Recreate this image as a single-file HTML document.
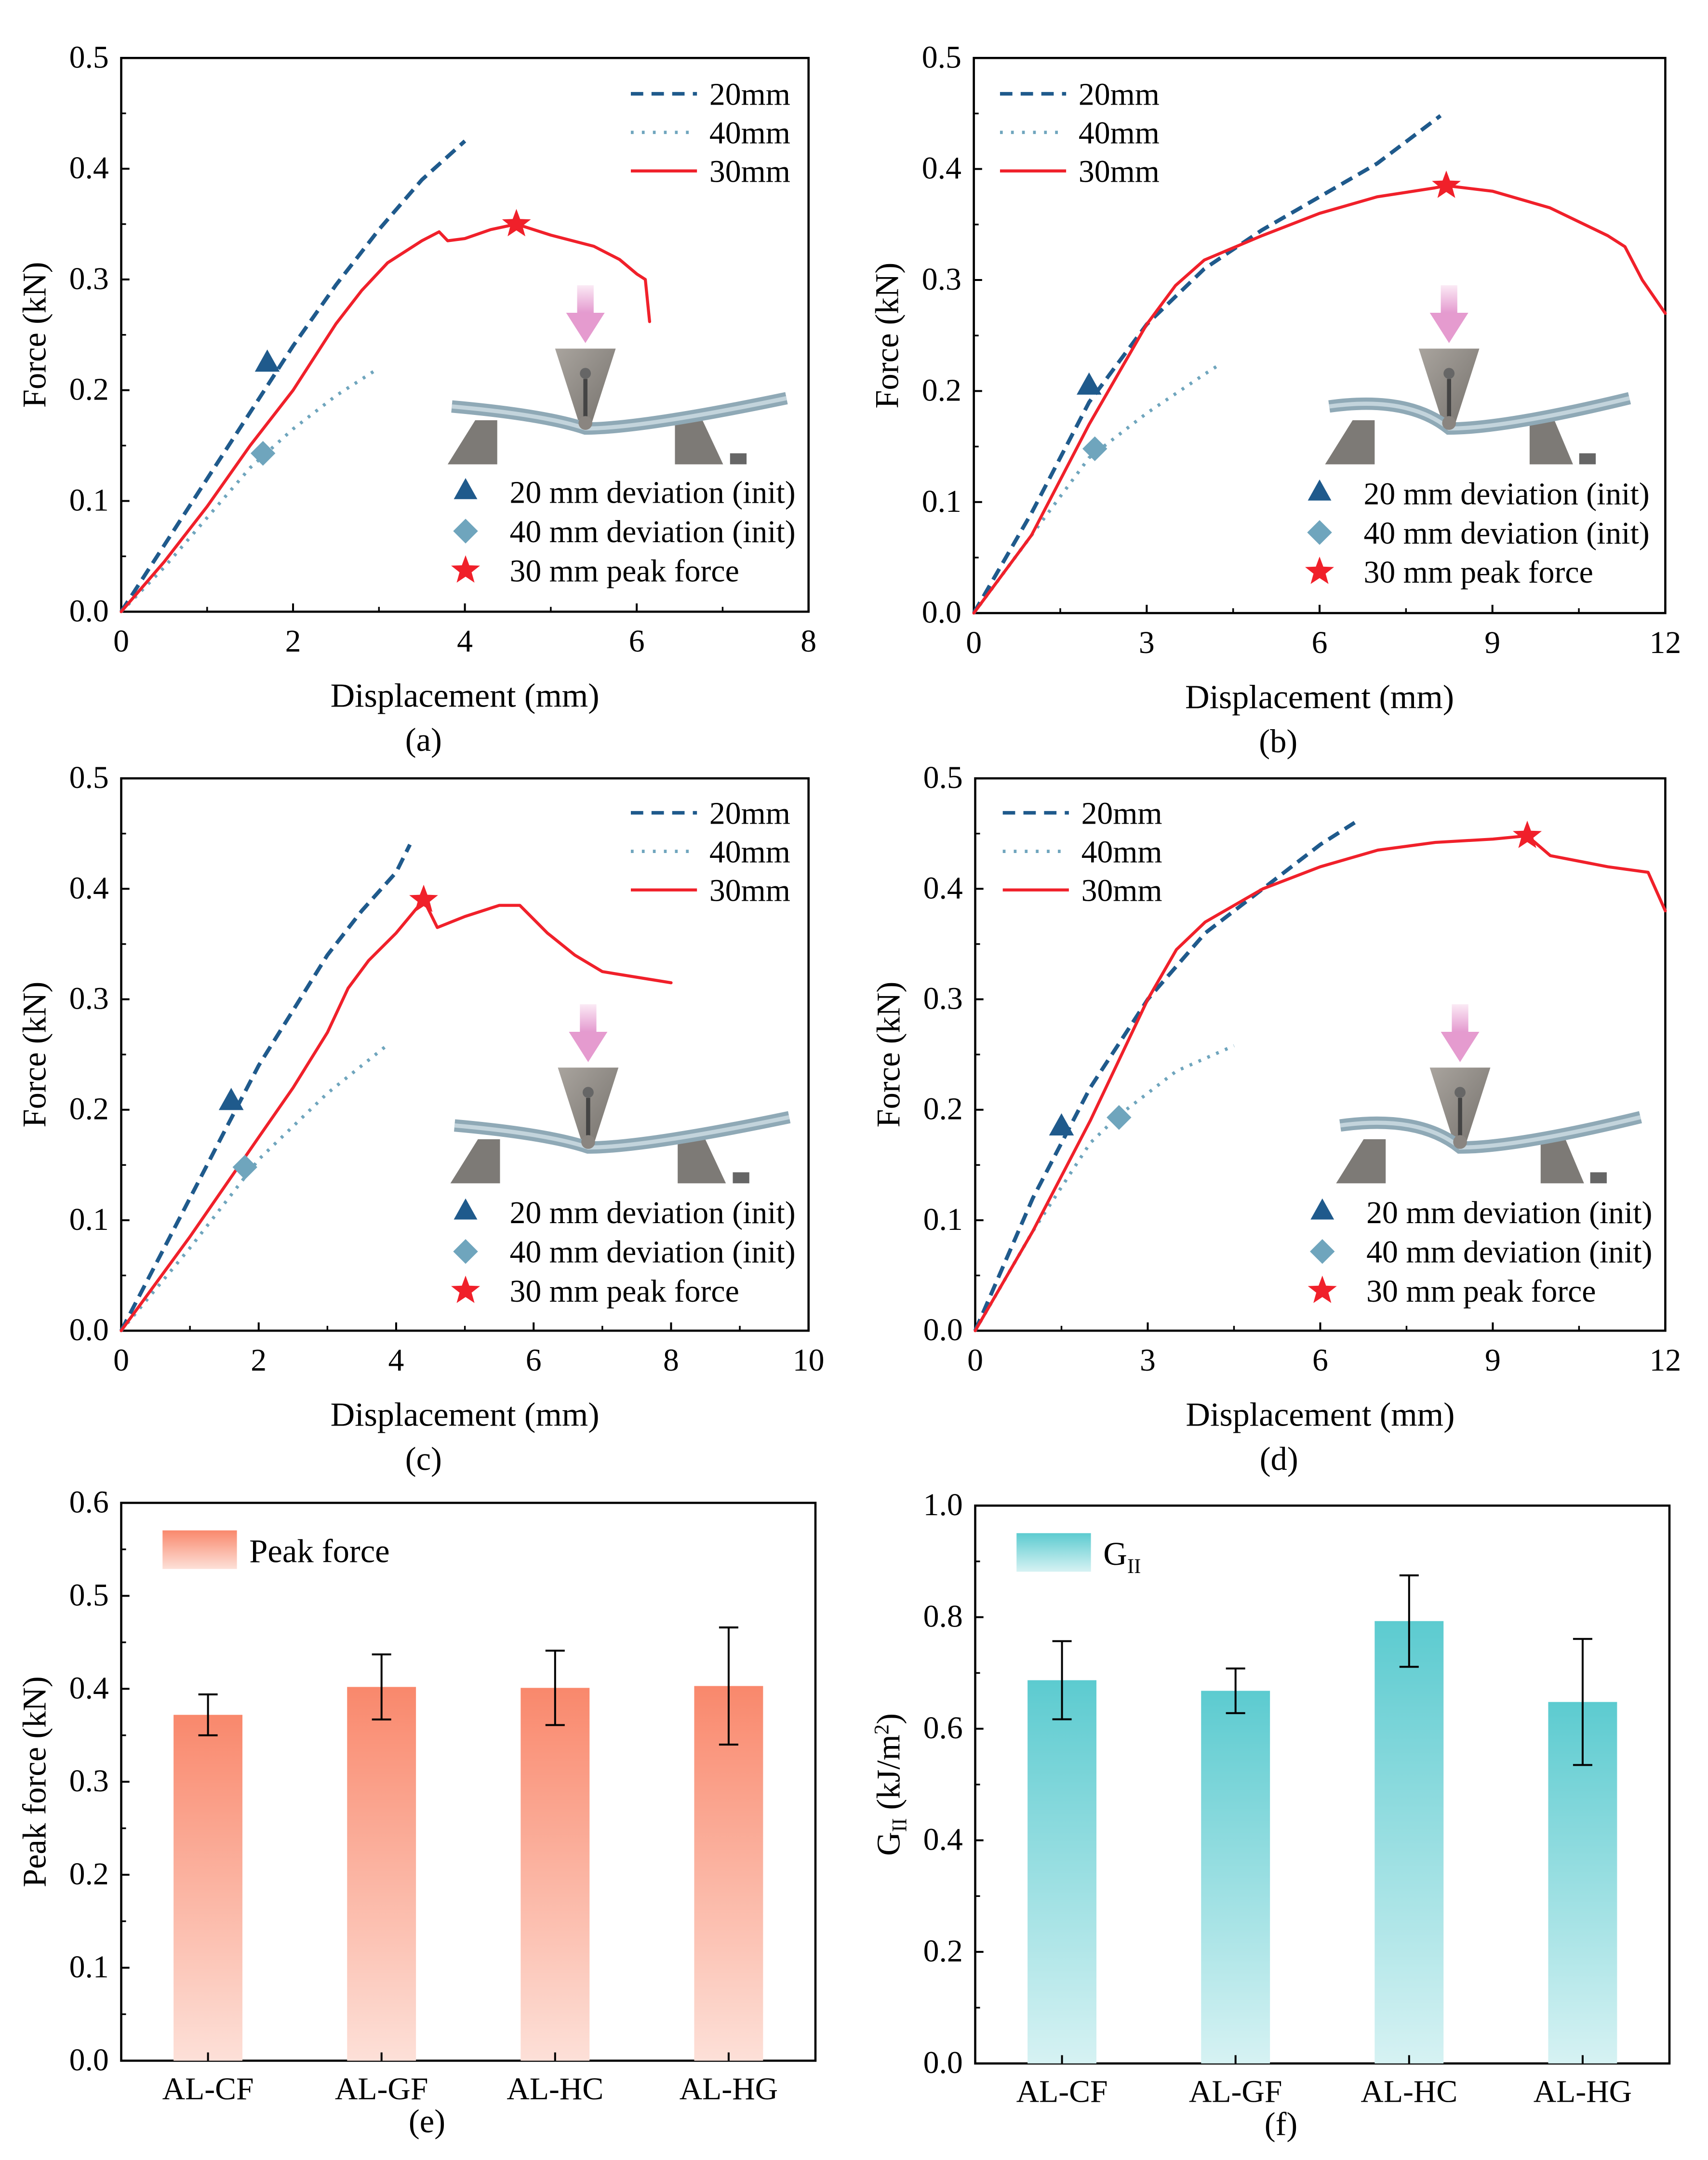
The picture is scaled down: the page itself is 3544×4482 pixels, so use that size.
<!DOCTYPE html>
<html><head><meta charset="utf-8"><style>
html,body{margin:0;padding:0;background:#fff}
svg{display:block}
text{font-family:"Liberation Serif",serif;fill:#000}
</style></head><body>
<svg id="fig" xmlns="http://www.w3.org/2000/svg" width="3544" height="4482" viewBox="0 0 1240 1568">
<defs>
<linearGradient id="gRed" x1="0" y1="0" x2="0" y2="1"><stop offset="0" stop-color="#f9886c"/><stop offset="1" stop-color="#fde0d8"/></linearGradient>
<linearGradient id="gTeal" x1="0" y1="0" x2="0" y2="1"><stop offset="0" stop-color="#5ccbd0"/><stop offset="1" stop-color="#d6f2f3"/></linearGradient>
<linearGradient id="gPink" x1="0" y1="0" x2="0" y2="1"><stop offset="0" stop-color="#fbeaf5"/><stop offset="1" stop-color="#e293cc"/></linearGradient>
<linearGradient id="gMetal" x1="0" y1="0" x2="1" y2="1"><stop offset="0" stop-color="#a9a49e"/><stop offset="1" stop-color="#75716c"/></linearGradient>
</defs>
</svg>
<script>
// ---------- data ----------
const a20 = [[0,0],[0.5,0.06],[1,0.12],[1.5,0.18],[2,0.24],[2.5,0.295],[3,0.345],[3.5,0.39],[4,0.425]];
const a40 = [[0,0],[0.5,0.04],[1,0.085],[1.5,0.13],[2,0.165],[2.5,0.195],[3,0.22]];
const a30 = [[0,0],[0.5,0.045],[1,0.095],[1.5,0.15],[2,0.2],[2.5,0.26],[2.8,0.29],[3.1,0.315],[3.5,0.335],[3.7,0.343],[3.8,0.335],[4,0.337],[4.3,0.345],[4.6,0.35],[5,0.34],[5.5,0.33],[5.8,0.318],[6,0.305],[6.1,0.3],[6.15,0.262]];
const aMarks = [[1.7,0.225],[1.65,0.143],[4.6,0.35]];
const b20 = [[0,0],[1,0.09],[2,0.19],[3,0.26],[4,0.31],[5,0.345],[6,0.375],[7,0.405],[8.1,0.448]];
const b40 = [[0,0],[1,0.07],[2,0.14],[3,0.18],[4,0.215],[4.3,0.225]];
const b30 = [[0,0],[1,0.07],[2,0.17],[3,0.26],[3.5,0.295],[4,0.318],[5,0.34],[6,0.36],[7,0.375],[8,0.383],[8.2,0.385],[9,0.38],[10,0.365],[11,0.34],[11.3,0.33],[11.6,0.3],[12,0.27]];
const bMarks = [[2,0.205],[2.1,0.148],[8.2,0.385]];
const c20 = [[0,0],[0.5,0.06],[1,0.12],[1.5,0.18],[2,0.24],[2.5,0.29],[3,0.34],[3.5,0.38],[4,0.415],[4.2,0.44]];
const c40 = [[0,0],[1,0.075],[2,0.155],[3,0.215],[3.9,0.26]];
const c30 = [[0,0],[1,0.085],[2,0.175],[2.5,0.22],[3,0.27],[3.3,0.31],[3.6,0.335],[4,0.36],[4.4,0.39],[4.6,0.365],[5,0.375],[5.5,0.385],[5.8,0.385],[6.2,0.36],[6.6,0.34],[7,0.325],[7.5,0.32],[8,0.315]];
const cMarks = [[1.6,0.208],[1.8,0.148],[4.4,0.39]];
const d20 = [[0,0],[1,0.12],[2,0.22],[3,0.3],[4,0.36],[5,0.4],[6,0.44],[6.6,0.46]];
const d40 = [[0,0],[1,0.09],[2,0.17],[2.5,0.195],[3.5,0.235],[4.5,0.258]];
const d30 = [[0,0],[1,0.09],[2,0.19],[3,0.3],[3.5,0.345],[4,0.37],[5,0.4],[6,0.42],[7,0.435],[8,0.442],[9,0.445],[9.6,0.448],[10,0.43],[11,0.42],[11.7,0.415],[12,0.38]];
const dMarks = [[1.5,0.185],[2.5,0.193],[9.6,0.448]];
const categories = ["AL-CF","AL-GF","AL-HC","AL-HG"];
const peakForce = [0.372,0.402,0.401,0.403];
const peakErr = [0.022,0.035,0.04,0.063];
const gII = [0.687,0.668,0.793,0.648];
const gIIErr = [0.07,0.04,0.082,0.113];
const xTicksA = [0,2,4,6,8];
const xTicks12 = [0,3,6,9,12];
const xTicksC = [0,2,4,6,8,10];
const yTicksF = [0,0.1,0.2,0.3,0.4,0.5];
const yTicksE = [0,0.1,0.2,0.3,0.4,0.5,0.6];
const yTicksG = [0,0.2,0.4,0.6,0.8,1.0];

// ---------- helpers ----------
const NS="http://www.w3.org/2000/svg";
const svg=document.getElementById('fig');
function mk(tag,attrs,parent){const e=document.createElementNS(NS,tag);for(const k in attrs)e.setAttribute(k,attrs[k]);(parent||svg).appendChild(e);return e;}
function txt(s,x,y,size,anchor,parent){const t=mk('text',{x:x,y:y,'font-size':size,'text-anchor':anchor||'middle'},parent);t.textContent=s;return t;}

function axes(g,box,xmax,xt,ymax,yt,ylabel,xlabel,tag,fmtY){
  const L=box[0],T=box[1],R=box[2],B=box[3];
  const sx=v=>L+(v/xmax)*(R-L), sy=v=>B-(v/ymax)*(B-T);
  const frame=mk('rect',{x:L,y:T,width:R-L,height:B-T,fill:'none',stroke:'#000','stroke-width':1.6},g);
  
  
  if(xt){
    for(let i=0;i<xt.length;i++){
      const x=sx(xt[i]);
      mk('line',{x1:x,y1:B,x2:x,y2:B-6,stroke:'#000','stroke-width':1.4},g);
      const t=txt(String(xt[i]),x,B+29,23,'middle',g);
      
      
      if(i<xt.length-1){const xm=sx((xt[i]+xt[i+1])/2);mk('line',{x1:xm,y1:B,x2:xm,y2:B-3.5,stroke:'#000','stroke-width':1.2},g);}
    }
  }
  for(let i=0;i<yt.length;i++){
    const y=sy(yt[i]);
    mk('line',{x1:L,y1:y,x2:L+6,y2:y,stroke:'#000','stroke-width':1.4},g);
    const t=txt(fmtY(yt[i]),L-9,y+7,23,'end',g);
    
    
    if(i<yt.length-1){const ym=sy((yt[i]+yt[i+1])/2);mk('line',{x1:L,y1:ym,x2:L+3.5,y2:ym,stroke:'#000','stroke-width':1.2},g);}
  }
  if(ylabel){
    const cy=(T+B)/2;
    const t=mk('text',{x:0,y:0,'font-size':24,'text-anchor':'middle',transform:`translate(${L-55},${cy}) rotate(-90)`},g);
    t.textContent=ylabel;
    
    
  }
  if(xlabel){
    const t=txt(xlabel,(L+R)/2,B+69,24.5,'middle',g);
    
    
  }
  const p=txt(tag,(L+R)/2-30,B+(xlabel?101:52),24,'middle',g);
  
  
  return {sx,sy};
}

function line(g,data,sx,sy,color,dash,w,name){
  const d=data.map((p,i)=>(i?'L':'M')+sx(p[0]).toFixed(1)+','+sy(p[1]).toFixed(1)).join(' ');
  const e=mk('path',{d:d,fill:'none',stroke:color,'stroke-width':w,'stroke-dasharray':dash,'stroke-linejoin':'round','stroke-linecap':dash?'butt':'round'},g);
  
  
}
function tri(g,x,y,s){const e=mk('polygon',{points:`${x},${y-s} ${x-s*0.95},${y+s*0.7} ${x+s*0.95},${y+s*0.7}`,fill:'#1f5a8c'},g);return e;}
function dia(g,x,y,s){return mk('polygon',{points:`${x},${y-s} ${x+s},${y} ${x},${y+s} ${x-s},${y}`,fill:'#6fa5bd'},g);}
function star(g,x,y,r){let pts=[];for(let i=0;i<10;i++){const rr=i%2?r*0.42:r;const a=-Math.PI/2+i*Math.PI/5;pts.push((x+rr*Math.cos(a)).toFixed(1)+','+(y+rr*Math.sin(a)).toFixed(1));}return mk('polygon',{points:pts.join(' '),fill:'#f0202a'},g);}

function inset(g,x0,y0,w,dip){
  const gi=mk('g',{},g);
  
  
  const cx=x0+w*0.4;
  mk('rect',{x:cx-6,y:y0,width:12,height:22,fill:'url(#gPink)'},gi);
  mk('polygon',{points:`${cx-14},${y0+20} ${cx+14},${y0+20} ${cx},${y0+42}`,fill:'#e59bcf'},gi);
  mk('polygon',{points:`${cx-22},${y0+46} ${cx+22},${y0+46} ${cx+4},${y0+102} ${cx-4},${y0+102}`,fill:'url(#gMetal)'},gi);
  mk('circle',{cx:cx,cy:y0+64,r:4,fill:'#666'},gi);
  mk('line',{x1:cx,y1:y0+68,x2:cx,y2:y0+98,stroke:'#444','stroke-width':3},gi);
  mk('polygon',{points:`${x0},${y0+130} ${x0+20},${y0+98} ${x0+36},${y0+98} ${x0+36},${y0+130}`,fill:'#7d7a76'},gi);
  mk('polygon',{points:`${x0+w*0.66},${y0+130} ${x0+w*0.66},${y0+98} ${x0+w*0.74},${y0+98} ${x0+w*0.8},${y0+130}`,fill:'#7d7a76'},gi);
  mk('rect',{x:x0+w*0.82,y:y0+122,width:12,height:8,fill:'#666'},gi);
  mk('path',{d:`M${x0+3},${y0+88} Q${cx-30},${y0+100+dip} ${cx},${y0+104} Q${cx+40},${y0+104} ${x0+w-4},${y0+82}`,fill:'none',stroke:'#8fa9b6','stroke-width':9,'stroke-linecap':'butt'},gi);
  mk('path',{d:`M${x0+3},${y0+88} Q${cx-30},${y0+100+dip} ${cx},${y0+104} Q${cx+40},${y0+104} ${x0+w-4},${y0+82}`,fill:'none',stroke:'#c3d4dc','stroke-width':3},gi);
  mk('circle',{cx:cx,cy:y0+100,r:5,fill:'#8a8580'},gi);
}

function legends(g,lx,ly,mx,my){
  const items=[['20mm','#1f5a8c','9,6',2.6],['40mm','#6fa5bd','2,6',2.4],['30mm','#f0202a','',2.2]];
  items.forEach((it,i)=>{
    const y=ly+i*28;
    const l=mk('line',{x1:lx,y1:y,x2:lx+48,y2:y,stroke:it[1],'stroke-width':it[3],'stroke-dasharray':it[2]},g);
    
    
    const t=txt(it[0],lx+57,y+8,23,'start',g);
    
    
  });
  const labs=['20 mm deviation (init)','40 mm deviation (init)','30 mm peak force'];
  labs.forEach((s,i)=>{
    const y=my+i*28.5;
    if(i==0)tri(g,mx,y-1,9);else if(i==1)dia(g,mx,y,9);else star(g,mx,y,11);
    const t=txt(s,mx+32,y+8,23,'start',g);
    
    
  });
}

function curvePanel(name,box,xmax,xt,d20,d40,d30,marks,tag,legPos,ins){
  const g=mk('g',{});
  
  
  const {sx,sy}=axes(g,box,xmax,xt,0.5,yTicksF,'Force (kN)','Displacement (mm)',tag,v=>v.toFixed(1));
  inset(g,ins[0],ins[1],ins[2],ins[3]);
  line(g,d40,sx,sy,'#6fa5bd','2,5',2.4,'series-40mm');
  line(g,d20,sx,sy,'#1f5a8c','9,5',2.8,'series-20mm');
  line(g,d30,sx,sy,'#f0202a','',2.2,'series-30mm');
  const m1=tri(g,sx(marks[0][0]),sy(marks[0][1]),9.5);
  
  
  const m2=dia(g,sx(marks[1][0]),sy(marks[1][1]),9);
  
  
  const m3=star(g,sx(marks[2][0]),sy(marks[2][1]),11);
  
  
  legends(g,legPos[0],legPos[1],legPos[2],legPos[3]);
}

curvePanel('panel-a',[88,42,587,444],8,xTicksA,a20,a40,a30,aMarks,'(a)',[458,68,338,357],[325,207,250,-6]);
curvePanel('panel-b',[707,42,1209,445],12,xTicks12,b20,b40,b30,bMarks,'(b)',[726,68,958,358],[962,207,225,-20]);
curvePanel('panel-c',[88,565,587,966],10,xTicksC,c20,c40,c30,cMarks,'(c)',[458,590,338,880],[327,729,250,-6]);
curvePanel('panel-d',[708,565,1209,966],12,xTicks12,d20,d40,d30,dMarks,'(d)',[728,590,960,880],[970,729,225,-20]);

function barPanel(name,box,ymax,yt,vals,errs,grad,ylabelNode,legText,tag,fmt){
  const g=mk('g',{});
  
  
  const L=box[0],R=box[2],B=box[3],T=box[1];
  const {sy}=axes(g,box,1,null,ymax,yt,null,null,tag,fmt);
  const step=(R-L)/4;
  categories.forEach((c,i)=>{
    const cx=L+step*(i+0.5);
    const r=mk('rect',{x:cx-25,y:sy(vals[i]),width:50,height:B-sy(vals[i]),fill:grad},g);
    
    
    const e=mk('path',{d:`M${cx},${sy(vals[i]+errs[i])} V${sy(vals[i]-errs[i])} M${cx-7},${sy(vals[i]+errs[i])} H${cx+7} M${cx-7},${sy(vals[i]-errs[i])} H${cx+7}`,stroke:'#000','stroke-width':1.4,fill:'none'},g);
    
    
    mk('line',{x1:cx,y1:B,x2:cx,y2:B-6,stroke:'#000','stroke-width':1.4},g);
    const t=txt(c,cx,B+28,23,'middle',g);
    
    
  });
  const lg=mk('rect',{x:L+30,y:T+20,width:54,height:28,fill:grad},g);
  
  
  const lt=mk('text',{x:L+93,y:T+43,'font-size':24},g);
  lt.innerHTML=legText;
  
  
  const yl=mk('text',{x:0,y:0,'font-size':24,'text-anchor':'middle',transform:`translate(${L-55},${(T+B)/2}) rotate(-90)`},g);
  yl.innerHTML=ylabelNode;
  
  
}
barPanel('panel-e',[88,1091,592,1496],0.6,yTicksE,peakForce,peakErr,'url(#gRed)','Peak force (kN)','Peak force','(e)',v=>v.toFixed(1));
barPanel('panel-f',[708,1093,1212,1498],1.0,yTicksG,gII,gIIErr,'url(#gTeal)','G<tspan font-size="15" dy="5">II</tspan><tspan dy="-5"> (kJ/m</tspan><tspan font-size="15" dy="-8">2</tspan><tspan dy="8">)</tspan>','G<tspan font-size="15" dy="6">II</tspan>','(f)',v=>v.toFixed(1));
</script>
</body></html>
